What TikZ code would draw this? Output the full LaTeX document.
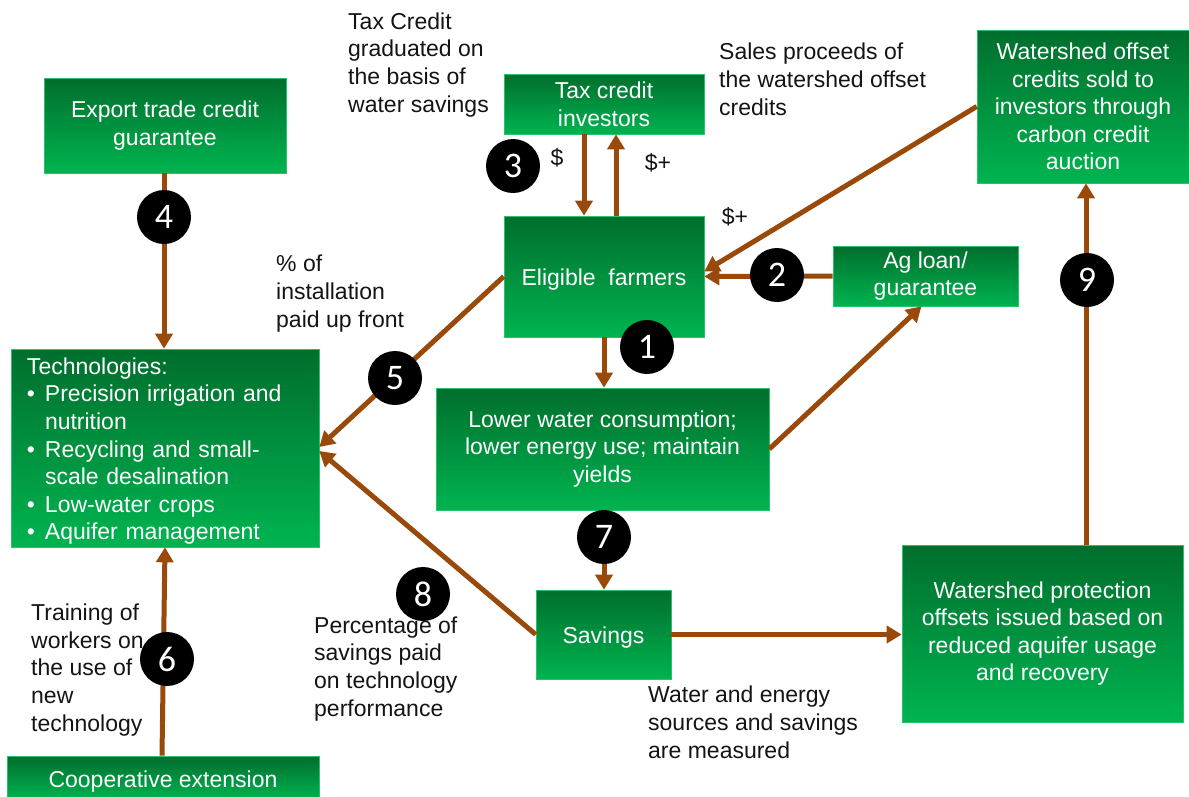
\documentclass[tikz,border=0pt]{standalone}
\usepackage{fontspec}
\setmainfont{Liberation Sans}
\newfontfamily\numfont{Carlito}
\usetikzlibrary{arrows.meta}
\definecolor{gtop}{RGB}{0,110,45}
\definecolor{gbot}{RGB}{0,180,80}
\definecolor{gedge}{RGB}{40,195,105}
\definecolor{arr}{RGB}{153,74,10}
\definecolor{txt}{RGB}{20,20,20}
\begin{document}
\begin{tikzpicture}[x=1pt,y=-1pt,
  box/.style={top color=gtop, bottom color=gbot, draw=gedge, line width=0.6pt, text=white,
    font=\fontsize{23}{27.6}\selectfont, align=center, inner sep=0pt, anchor=center,
    execute at begin node={\rule{0pt}{23pt}}},
  lbl/.style={text=txt, font=\fontsize{23}{27.6}\selectfont, align=left, inner sep=0pt, anchor=base west},
  dol/.style={text=txt, font=\fontsize{23}{27.6}\selectfont, inner sep=0pt, anchor=center},
  num/.style={circle, fill=black, text=white, minimum size=54pt, inner sep=0pt,
    font=\numfont\fontsize{36}{36}\selectfont},
  flow/.style={draw=arr, line width=5pt, -{Triangle[width=17pt,length=15pt]}}
]
\fill[white] (0,0) rectangle (1189,796);
\useasboundingbox (0,0) rectangle (1189,796);
\clip (0,0) rectangle (1189,796);

% boxes
\node[box, minimum width=242pt, minimum height=95pt] (exp) at (165,125.5) {Export trade credit\\guarantee};
\node[box, minimum width=308pt, minimum height=198pt, align=left, text width=276pt] (tech) at (165,448)
  {Technologies:\\
   \makebox[18pt][l]{\textbullet}Precision irrigation and\\
   \hspace*{18pt}nutrition\\
   \makebox[18pt][l]{\textbullet}Recycling and small-\\
   \hspace*{18pt}scale desalination\\
   \makebox[18pt][l]{\textbullet}Low-water crops\\
   \makebox[18pt][l]{\textbullet}Aquifer management};
\node[box, minimum width=200pt, minimum height=60pt] (tax) at (604,104) {Tax credit\\investors};
\node[box, minimum width=200pt, minimum height=121pt] (farm) at (604,276.5) {Eligible\ \ farmers};
\node[box, minimum width=185pt, minimum height=60pt] (ag) at (925.5,276) {Ag loan/\\guarantee};
\node[box, minimum width=212pt, minimum height=153pt] (wso) at (1083,106.5)
  {Watershed offset\\credits sold to\\investors through\\carbon credit\\auction};
\node[box, minimum width=333pt, minimum height=122pt] (low) at (602.5,449)
  {Lower water consumption;\\lower energy use; maintain\\yields};
\node[box, minimum width=135pt, minimum height=89pt] (sav) at (603.5,634.5) {Savings};
\node[box, minimum width=281pt, minimum height=177pt] (wsp) at (1042.5,633.5)
  {Watershed protection\\offsets issued based on\\reduced aquifer usage\\and recovery};
\node[box, minimum width=312pt, minimum height=44pt] (coop) at (163,778) {Cooperative extension};

% connectors
\draw[flow] (farm.south) -- (farm.south |- low.north);
\draw[flow] (ag.west) -- (farm.east);
\draw[flow] (wso.west) -- ([yshift=5pt]farm.east);
\draw[flow] ([xshift=-20pt]tax.south) -- ([xshift=-20pt]farm.north);
\draw[flow] ([xshift=12pt]farm.north) -- ([xshift=12pt]tax.south);
\draw[flow] ([xshift=-1pt]exp.south) -- ([xshift=-1pt]tech.north);
\draw[flow] (farm.west) -- ([yshift=1pt]tech.east);
\draw[flow] (sav.west) -- ([yshift=-3pt]tech.east);
\draw[flow] (low.east) -- ([xshift=-4pt]ag.south);
\draw[flow] ([xshift=1.5pt]low.south) -- ([xshift=0.5pt]sav.north);
\draw[flow] (sav.east) -- (sav.east -| wsp.west);
\draw[flow] ([xshift=3pt]wso.south |- wsp.north) -- ([xshift=3pt]wso.south);
\draw[flow] ([xshift=-1pt]coop.north) -- (tech.south);

% labels (anchored at the baseline of their last line)
\node[lbl] (l3) at (348,112) {Tax Credit\\graduated on\\the basis of\\water savings};
\node[lbl] (lsales) at (719,115) {Sales proceeds of\\the watershed offset\\credits};
\node[dol] (d1) at (557,158) {\$};
\node[dol] (d2) at (658,163) {\$+};
\node[dol] (d3) at (735,217) {\$+};
\node[lbl] (l5) at (276,327) {\% of\\installation\\paid up front};
\node[lbl] (l6) at (31,731) {Training of\\workers on\\the use of\\new\\technology};
\node[lbl] (l8) at (314,716) {Percentage of\\savings paid\\on technology\\performance};
\node[lbl] (l7) at (648,758) {Water and energy\\sources and savings\\are measured};

% numbered circles
\node[num] (n1) at (647,347) {1};
\node[num] (n2) at (777,275) {2};
\node[num] (n3) at (513,166) {3};
\node[num] (n4) at (164,217) {4};
\node[num] (n5) at (395,378) {5};
\node[num] (n6) at (167,659) {6};
\node[num] (n7) at (604,537) {7};
\node[num] (n8) at (423,594) {8};
\node[num] (n9) at (1087,280) {9};
\end{tikzpicture}
\end{document}
